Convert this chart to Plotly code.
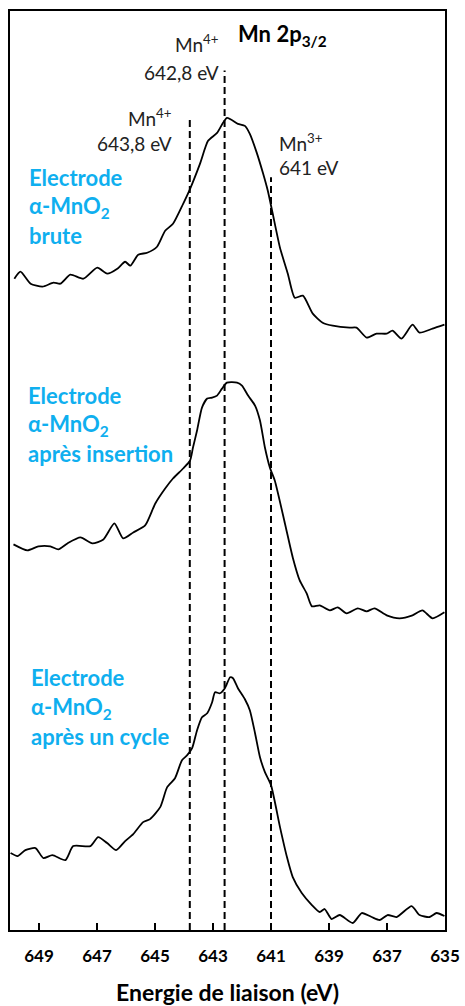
import plotly.graph_objects as go

# ---- data ----
energy_brute = [649.85, 649.64, 649.29, 648.88, 648.50, 648.26, 647.92, 647.47, 646.99, 646.65,
                646.30, 646.03, 645.85, 645.58, 645.27, 644.93, 644.65, 644.38, 644.03, 643.79,
                643.45, 643.17, 642.86, 642.52, 642.14, 641.90, 641.73, 641.49, 641.28, 641.11,
                640.94, 640.69, 640.42, 640.18, 639.90, 639.56, 639.22, 638.87, 638.29, 638.05,
                637.70, 637.36, 637.01, 636.81, 636.50, 636.12, 635.88, 635.43, 635.02]
intens_brute = [652, 659, 647, 644, 648, 647, 656, 652, 663, 657,
                662, 669, 665, 676, 678, 684, 700, 707, 727, 742,
                767, 790, 798, 813, 807, 805, 797, 778, 758, 740,
                717, 683, 657, 633, 635, 617, 608, 605, 603, 603,
                593, 597, 597, 600, 592, 606, 598, 602, 606]

energy_insert = [649.88, 649.40, 649.02, 648.61, 648.33, 648.02, 647.57, 647.16, 646.78, 646.40,
                 646.10, 645.75, 645.34, 644.99, 644.65, 644.38, 644.03, 643.79, 643.69, 643.55,
                 643.38, 643.20, 643.03, 642.86, 642.69, 642.52, 642.17, 642.00, 641.79, 641.55,
                 641.38, 641.21, 641.04, 640.87, 640.52, 640.25, 640.01, 639.77, 639.59, 639.32,
                 638.97, 638.70, 638.39, 638.01, 637.70, 637.43, 637.01, 636.57, 636.12, 635.78,
                 635.43, 635.02]
intens_insert = [386, 380, 384, 384, 381, 387, 393, 387, 391, 407,
                 392, 398, 405, 427, 442, 452, 462, 470, 483, 500,
                 523, 532, 533, 535, 542, 548, 548, 545, 535, 525,
                 510, 483, 463, 450, 407, 373, 350, 337, 324, 325,
                 320, 323, 317, 322, 319, 322, 315, 312, 315, 320,
                 312, 318]

energy_cycle = [649.98, 649.74, 649.47, 649.12, 648.85, 648.54, 648.09, 647.82, 647.23, 646.96,
                646.65, 646.34, 646.03, 645.75, 645.41, 645.17, 644.82, 644.58, 644.31, 644.07,
                643.89, 643.72, 643.55, 643.38, 643.20, 643.03, 642.93, 642.76, 642.59, 642.41,
                642.31, 642.14, 641.90, 641.73, 641.55, 641.38, 641.21, 641.00, 640.69, 640.45,
                640.25, 639.94, 639.59, 639.32, 639.15, 638.91, 638.63, 638.18, 637.87, 637.53,
                637.25, 636.98, 636.67, 636.15, 635.88, 635.53, 635.29, 635.02]
intens_cycle = [77, 74, 80, 82, 72, 75, 70, 84, 84, 93,
                87, 80, 89, 96, 108, 111, 123, 143, 152, 170,
                175, 182, 200, 213, 217, 228, 238, 237, 242, 253,
                252, 242, 231, 220, 197, 173, 158, 145, 103, 73,
                53, 37, 25, 18, 21, 11, 15, 7, 17, 13,
                10, 15, 13, 24, 15, 13, 17, 14]

ref_lines_ev = [643.8, 642.6, 641.0]
tick_vals = [649, 647, 645, 643, 641, 639, 637, 635]
tick_text = ["649", "647", "645", "643", "641", "639", "637", "635"]

W, H = 465, 1006
ML, MR, MT, MB = 9.5, 19.5, 10.5, 75.5
PW, PH = W - ML - MR, H - MT - MB


def px(xp):
    return (xp - ML) / PW


def py(yp):
    return (H - MB - yp) / PH


FONT = "Lato"
BLUE = "#0FAFEF"
TXT = "#222222"

fig = go.Figure()
for e, i in [(energy_brute, intens_brute), (energy_insert, intens_insert), (energy_cycle, intens_cycle)]:
    fig.add_trace(go.Scatter(x=e, y=i, mode="lines",
                             line=dict(color="black", width=1.8, shape="spline", smoothing=0.6),
                             showlegend=False, hoverinfo="skip"))

tops = [118, 70, 177]
for ev, t in zip(ref_lines_ev, tops):
    fig.add_shape(type="line", xref="x", yref="paper", x0=ev, x1=ev, y0=0, y1=py(t),
                  line=dict(color="black", width=2, dash="7px,4px"))

ann = []


def add(text, x, y, anchor="left", size=19, color=TXT, bold=False):
    t = f"<b>{text}</b>" if bold else text
    ann.append(dict(text=t, x=px(x), y=py(y), xref="paper", yref="paper",
                    xanchor=anchor, yanchor="middle", showarrow=False,
                    font=dict(family=FONT, size=size, color=color)))


add("Mn 2p<sub>3/2</sub>", 236, 35, size=22, color="black", bold=True)
add("Mn<sup>4+</sup>", 221, 43, anchor="right")
add("642,8 eV", 221, 72, anchor="right")
add("Mn<sup>4+</sup>", 174, 117, anchor="right")
add("643,8 eV", 174, 143, anchor="right")
add("Mn<sup>3+</sup>", 277, 142, anchor="left")
add("641 eV", 277, 167, anchor="left")

blue_blocks = [
    (["Electrode", "α-MnO<sub>2</sub>", "brute"], 27, [177, 207, 235]),
    (["Electrode", "α-MnO<sub>2</sub>", "après insertion"], 26, [395, 425, 453]),
    (["Electrode", "α-MnO<sub>2</sub>", "après un cycle"], 29, [678, 708, 737]),
]
for lines, x0, ys in blue_blocks:
    for s, y in zip(lines, ys):
        add(s, x0, y, size=22, color=BLUE, bold=True)

fig.update_layout(
    width=W, height=H,
    margin=dict(l=ML, r=MR, t=MT, b=MB, pad=0, autoexpand=False),
    paper_bgcolor="white", plot_bgcolor="white",
    annotations=ann,
    xaxis=dict(range=[650, 635], tickvals=tick_vals, ticktext=tick_text, automargin=False,
               ticks="inside", ticklen=7, tickwidth=1.5, tickcolor="black",
               showline=True, linecolor="black", linewidth=2, mirror=True,
               showgrid=False, zeroline=False, ticklabelstandoff=10,
               tickfont=dict(family=FONT, size=17, color="black", weight="bold"),
               title=dict(text="<b>Energie de liaison (eV)</b>", standoff=30,
                          font=dict(family=FONT, size=23, color="black"))),
    yaxis=dict(range=[0, 920], showticklabels=False, ticks="", automargin=False,
               showline=True, linecolor="black", linewidth=2, mirror=True,
               showgrid=False, zeroline=False),
)
fig.write_html("out.html", config={"displayModeBar": False},
               post_script="document.body.style.margin='0';document.body.style.overflow='hidden';")
